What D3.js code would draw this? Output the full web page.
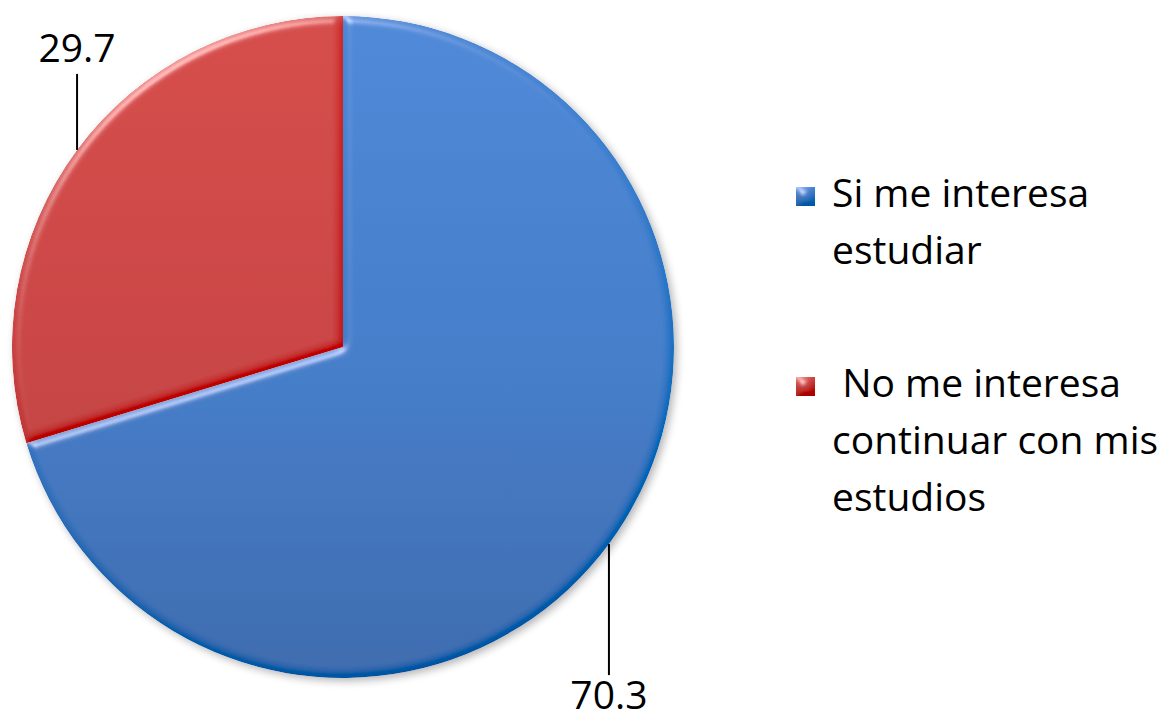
<!DOCTYPE html>
<html>
<head>
<meta charset="utf-8">
<script src="https://cdn.jsdelivr.net/npm/d3@7"></script>
<style>
  html, body { margin: 0; padding: 0; background: #fff; }
  svg { display: block; }
  text { font-family: "Open Sans", "Noto Sans", sans-serif; fill: #000; }
</style>
</head>
<body>
<div id="chart"></div>
<script>
const categories = ["Si me interesa estudiar", "No me interesa continuar con mis estudios"];
const values = [70.3, 29.7];
const legendLines = [["Si me interesa", "estudiar"], [" No me interesa", "continuar con mis", "estudios"]];
const colors = ["#3f7cc9", "#c94040"];
const colorsLight = ["#4a87d6", "#d44846"];
const colorsDark = ["#3869ad", "#b23936"];

var width = 1172, height = 719;
var cx = 343, cy = 347, radius = 331;

var svg = d3.select("#chart").append("svg")
    .attr("width", width)
    .attr("height", height);

var defs = svg.append("defs");

// bevel: soft highlight on edges facing the light, mild shade on the others
var bevel = defs.append("filter")
    .attr("id", "bevel")
    .attr("x", "-5%").attr("y", "-5%")
    .attr("width", "110%").attr("height", "110%");
bevel.append("feGaussianBlur")
    .attr("in", "SourceAlpha")
    .attr("stdDeviation", 4)
    .attr("result", "blur");
var spec = bevel.append("feSpecularLighting")
    .attr("in", "blur")
    .attr("surfaceScale", 5)
    .attr("specularConstant", 0.9)
    .attr("specularExponent", 25)
    .attr("lighting-color", "#ffffff")
    .attr("result", "spec");
spec.append("feDistantLight")
    .attr("azimuth", 240)
    .attr("elevation", 30);
var diff = bevel.append("feDiffuseLighting")
    .attr("in", "blur")
    .attr("surfaceScale", 5)
    .attr("diffuseConstant", 1)
    .attr("lighting-color", "#ffffff")
    .attr("result", "light");
diff.append("feDistantLight")
    .attr("azimuth", 240)
    .attr("elevation", 55);
bevel.append("feComposite")
    .attr("in", "SourceGraphic")
    .attr("in2", "light")
    .attr("operator", "arithmetic")
    .attr("k1", 0).attr("k2", 1).attr("k3", 0.1).attr("k4", -0.1 * Math.sin(55 * Math.PI / 180))
    .attr("result", "lit");
bevel.append("feComposite")
    .attr("in", "lit")
    .attr("in2", "spec")
    .attr("operator", "arithmetic")
    .attr("k1", 0).attr("k2", 1).attr("k3", 0.45).attr("k4", 0)
    .attr("result", "lit2");
bevel.append("feComposite")
    .attr("in", "lit2")
    .attr("in2", "SourceAlpha")
    .attr("operator", "in");

// drop shadow for the whole pie
var shadow = defs.append("filter")
    .attr("id", "shadow")
    .attr("x", "-10%").attr("y", "-10%")
    .attr("width", "120%").attr("height", "120%");
shadow.append("feGaussianBlur")
    .attr("in", "SourceAlpha")
    .attr("stdDeviation", 4)
    .attr("result", "sb");
shadow.append("feOffset")
    .attr("in", "sb")
    .attr("dx", 3).attr("dy", 3)
    .attr("result", "so");
shadow.append("feComponentTransfer")
    .attr("in", "so")
    .attr("result", "sf")
  .append("feFuncA")
    .attr("type", "linear")
    .attr("slope", 0.3);
var merge = shadow.append("feMerge");
merge.append("feMergeNode").attr("in", "sf");
merge.append("feMergeNode").attr("in", "SourceGraphic");

// vertical gradients for each slice colour
colors.forEach(function(c, i) {
  var g = defs.append("linearGradient")
      .attr("id", "grad" + i)
      .attr("gradientUnits", "userSpaceOnUse")
      .attr("x1", 0).attr("y1", -radius)
      .attr("x2", 0).attr("y2", radius);
  g.append("stop").attr("offset", "0%").attr("stop-color", colorsLight[i]);
  g.append("stop").attr("offset", "50%").attr("stop-color", colors[i]);
  g.append("stop").attr("offset", "100%").attr("stop-color", colorsDark[i]);

  var lg = defs.append("linearGradient")
      .attr("id", "lgrad" + i)
      .attr("x1", 0).attr("y1", 0)
      .attr("x2", 0).attr("y2", 1);
  lg.append("stop").attr("offset", "0%").attr("stop-color", colorsLight[i]);
  lg.append("stop").attr("offset", "100%").attr("stop-color", colorsDark[i]);
});

var pie = d3.pie().sort(null).value(function(d) { return d; });
var arc = d3.arc().innerRadius(0).outerRadius(radius);
var arcs = pie(values);

var g = svg.append("g")
    .attr("transform", "translate(" + cx + "," + cy + ")");

var pieG = g.append("g").attr("filter", "url(#shadow)");

pieG.selectAll(".slice")
    .data(arcs)
  .enter().append("path")
    .attr("class", "slice")
    .attr("d", arc)
    .attr("fill", function(d, i) { return "url(#grad" + i + ")"; })
    .attr("filter", "url(#bevel)");

// leader lines and labels
var labelOffset = [131, -76];
var textOffset = [34, -12];

arcs.forEach(function(d, i) {
  var a = (d.startAngle + d.endAngle) / 2;
  var x = Math.sin(a) * radius;
  var y = -Math.cos(a) * radius;
  g.append("line")
    .attr("x1", x).attr("y1", y)
    .attr("x2", x).attr("y2", y + labelOffset[i])
    .attr("stroke", "#000")
    .attr("stroke-width", 2);
  g.append("text")
    .attr("x", x)
    .attr("y", y + labelOffset[i] + textOffset[i])
    .attr("text-anchor", "middle")
    .attr("font-size", "39px")
    .text(d3.format(".1f")(values[i]));
});

// legend
var legendX = 796, legendTop = [187, 377];
var lineH = 57;

var leg = svg.append("g");
categories.forEach(function(c, i) {
  leg.append("rect")
    .attr("x", legendX)
    .attr("y", legendTop[i])
    .attr("width", 19)
    .attr("height", 19)
    .attr("fill", "url(#lgrad" + i + ")")
    .attr("filter", "url(#bevel)");
  var t = leg.append("text")
    .attr("x", 832)
    .attr("y", legendTop[i] + 20)
    .attr("font-size", "39px")
    .attr("xml:space", "preserve");
  legendLines[i].forEach(function(line, j) {
    t.append("tspan")
      .attr("x", 832)
      .attr("dy", j === 0 ? 0 : lineH)
      .text(line);
  });
});
</script>
</body>
</html>
